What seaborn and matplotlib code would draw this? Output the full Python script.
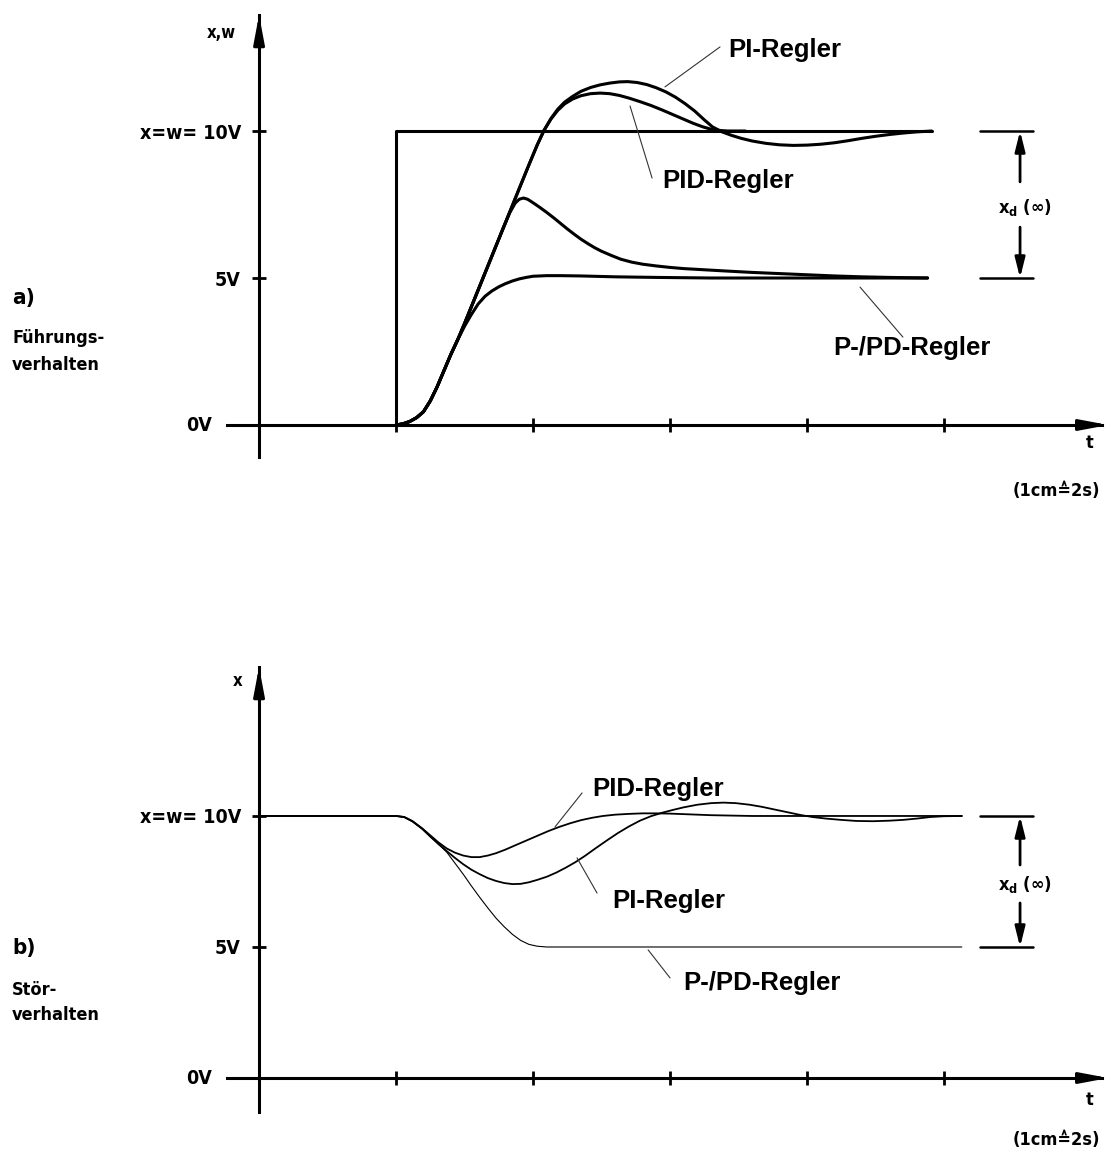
import pandas as pd
import seaborn as sns
import matplotlib.pyplot as plt
from matplotlib import font_manager as fm

sns.set_style('white')
plt.rcParams['text.color'] = 'black'
plt.rcParams['xtick.color'] = 'black'
plt.rcParams['ytick.color'] = 'black'

# ---- a) Fuehrungsverhalten: step of w at t=1 (t in cm, 1cm = 2s) ----
w_t = [1.0, 1.0, 4.91]
w_v = [0.0, 10.0, 10.0]

rise_t = [1.0, 1.05, 1.1, 1.15, 1.2, 1.25, 1.3, 1.35]
rise_v = [0.0, 0.04, 0.12, 0.25, 0.45, 0.82, 1.3, 1.85]

pi_a_t = rise_t + [1.4, 1.45, 1.5, 1.6, 1.7, 1.8, 1.9, 1.97, 2.03, 2.08, 2.13,
                   2.18, 2.23, 2.29, 2.35, 2.42, 2.49, 2.56, 2.63, 2.69, 2.76,
                   2.83, 2.9, 2.97, 3.04, 3.11, 3.18, 3.25, 3.31, 3.38, 3.45,
                   3.52, 3.6, 3.7, 3.8, 3.9, 4.0, 4.1, 4.2, 4.3, 4.4, 4.5,
                   4.6, 4.7, 4.8, 4.91]
pi_a_v = rise_v + [2.4, 2.9, 3.45, 4.6, 5.75, 6.9, 8.05, 8.85, 9.52, 10.02,
                   10.42, 10.74, 10.98, 11.18, 11.35, 11.48, 11.57, 11.63,
                   11.67, 11.68, 11.65, 11.58, 11.47, 11.33, 11.15, 10.93,
                   10.68, 10.38, 10.14, 9.97, 9.85, 9.75, 9.66, 9.58, 9.53,
                   9.51, 9.52, 9.55, 9.6, 9.67, 9.75, 9.82, 9.88, 9.93, 9.97,
                   10.0]

pid_a_t = rise_t + [1.4, 1.45, 1.5, 1.6, 1.7, 1.8, 1.9, 1.97, 2.03, 2.08,
                    2.13, 2.18, 2.23, 2.29, 2.35, 2.42, 2.49, 2.56, 2.63, 2.7,
                    2.78, 2.86, 2.94, 3.02, 3.1, 3.17, 3.24, 3.3, 3.36, 3.42,
                    3.55]
pid_a_v = rise_v + [2.4, 2.9, 3.45, 4.6, 5.75, 6.9, 8.05, 8.85, 9.52, 10.02,
                    10.4, 10.7, 10.92, 11.09, 11.2, 11.27, 11.29, 11.27, 11.21,
                    11.12, 11.0, 10.87, 10.72, 10.56, 10.4, 10.26, 10.14,
                    10.06, 10.02, 10.0, 10.0]

pd_a_t = rise_t + [1.4, 1.45, 1.5, 1.6, 1.7, 1.78, 1.83, 1.87, 1.9, 1.93,
                   1.96, 2.0, 2.05, 2.1, 2.15, 2.2, 2.25, 2.3, 2.35, 2.4, 2.45,
                   2.5, 2.57, 2.64, 2.72, 2.8, 2.9, 3.0, 3.1, 3.25, 3.4, 3.6,
                   3.8, 4.0, 4.2, 4.4, 4.6, 4.88]
pd_a_v = rise_v + [2.4, 2.9, 3.45, 4.6, 5.75, 6.67, 7.22, 7.55, 7.68, 7.72,
                   7.68, 7.56, 7.4, 7.23, 7.05, 6.86, 6.67, 6.49, 6.32, 6.17,
                   6.03, 5.91, 5.77, 5.64, 5.54, 5.47, 5.41, 5.36, 5.32, 5.28,
                   5.24, 5.19, 5.15, 5.11, 5.07, 5.04, 5.02, 5.0]

p_a_t = rise_t + [1.4, 1.45, 1.5, 1.55, 1.6, 1.65, 1.7, 1.75, 1.8, 1.85,
                  1.9, 1.95, 2.0, 2.1, 2.2, 2.35, 2.6, 2.9, 3.3, 4.88]
p_a_v = rise_v + [2.4, 2.9, 3.36, 3.76, 4.12, 4.38, 4.56, 4.7, 4.81, 4.9,
                  4.97, 5.02, 5.06, 5.08, 5.08, 5.07, 5.04, 5.02, 5.0, 5.0]

# ---- b) Stoerverhalten: disturbance at t=1 ----
pi_b_t = [0.0, 1.0, 1.06, 1.12, 1.19, 1.25, 1.31, 1.37, 1.43, 1.49, 1.55,
          1.61, 1.67, 1.73, 1.79, 1.85, 1.91, 1.97, 2.03, 2.1, 2.17, 2.24,
          2.31, 2.38, 2.46, 2.54, 2.62, 2.7, 2.78, 2.86, 2.94, 3.02, 3.1,
          3.2, 3.3, 3.39, 3.48, 3.58, 3.67, 3.76, 3.86, 3.95, 4.04, 4.14,
          4.25, 4.36, 4.48, 4.6, 4.7, 4.8, 4.9, 5.0, 5.13]
pi_b_v = [10.0, 10.0, 9.96, 9.8, 9.52, 9.22, 8.93, 8.66, 8.4, 8.16, 7.95,
          7.78, 7.63, 7.52, 7.44, 7.4, 7.41, 7.47, 7.56, 7.68, 7.84, 8.03,
          8.24, 8.48, 8.78, 9.07, 9.35, 9.6, 9.82, 9.99, 10.12, 10.23,
          10.33, 10.43, 10.49, 10.51, 10.49, 10.43, 10.35, 10.25, 10.14,
          10.04, 9.96, 9.9, 9.85, 9.81, 9.8, 9.82, 9.85, 9.9, 9.96, 9.99,
          10.0]

pid_b_t = [0.0, 1.0, 1.06, 1.12, 1.19, 1.25, 1.31, 1.37, 1.43, 1.49, 1.55,
           1.61, 1.67, 1.73, 1.8, 1.87, 1.95, 2.03, 2.11, 2.19, 2.27, 2.35,
           2.43, 2.51, 2.6, 2.7, 2.8, 2.9, 3.0, 3.1, 3.2, 3.3, 3.4, 3.5,
           3.6, 5.13]
pid_b_v = [10.0, 10.0, 9.96, 9.8, 9.53, 9.26, 8.99, 8.76, 8.6, 8.49, 8.43,
           8.43, 8.49, 8.58, 8.72, 8.88, 9.06, 9.24, 9.42, 9.58, 9.72, 9.84,
           9.93, 10.0, 10.05, 10.08, 10.1, 10.1, 10.09, 10.07, 10.05, 10.03,
           10.02, 10.01, 10.0, 10.0]

p_b_t = [0.0, 1.0, 1.06, 1.12, 1.19, 1.25, 1.31, 1.37, 1.43, 1.49, 1.55,
         1.61, 1.67, 1.73, 1.79, 1.85, 1.91, 1.97, 2.03, 2.1, 5.13]
p_b_v = [10.0, 10.0, 9.95, 9.78, 9.5, 9.2, 8.92, 8.62, 8.2, 7.78, 7.33,
         6.9, 6.49, 6.1, 5.77, 5.48, 5.25, 5.1, 5.03, 5.0, 5.0]

x_ticks = [1, 2, 3, 4, 5]
y_ticks = [5, 10]
y_labels = ['5V', 'x=w= 10V']

# technical (DIN-like) lettering for the axis texts
tech = fm.FontProperties(family='DejaVu Sans', weight='bold', stretch='condensed')
condensed = 'Condensed' in fm.findfont(tech)
tsize = 14 if condensed else 12.5


def tfont(size):
    fp = tech.copy()
    fp.set_size(size * tsize / 14)
    return fp


reg = dict(family=['Liberation Sans', 'DejaVu Sans'], weight='bold',
           fontsize=18.5, color='black')

fig = plt.figure(figsize=(11.08, 11.54), dpi=100)
ax1 = fig.add_axes([0, 0.5, 1, 0.5])
ax2 = fig.add_axes([0, 0, 1, 0.5])
ax1.set_xlim(-1.891, 6.197)
ax1.set_ylim(-5.17, 14.456)
ax2.set_xlim(-1.891, 6.197)
ax2.set_ylim(-2.90, 19.12)


def draw_axes(ax, y_top, y_bot, letter, title1, title2, ylab, ylab_v):
    for s in ['top', 'right']:
        ax.spines[s].set_visible(False)
    for s in ['left', 'bottom']:
        ax.spines[s].set_position(('data', 0))
        ax.spines[s].set_linewidth(2.2)
        ax.spines[s].set_color('black')
    ax.spines['left'].set_bounds(y_bot, y_top)
    ax.spines['bottom'].set_bounds(-0.234, 6.15)
    ax.set_xticks(x_ticks)
    ax.set_xticklabels([])
    ax.set_yticks(y_ticks)
    ax.set_yticklabels(y_labels)
    for lab in ax.get_yticklabels():
        lab.set_fontproperties(tfont(14))
        lab.set_color('black')
    ax.tick_params(axis='both', direction='inout', length=10, width=2,
                   color='black', bottom=True, left=True)
    ax.tick_params(axis='y', pad=8)
    ax.set_facecolor('white')
    arrow = dict(arrowstyle='-|>,head_length=1.7,head_width=0.32',
                 color='black', lw=2.2, shrinkA=0, shrinkB=0)
    ax.annotate('', xy=(0, y_top), xytext=(0, y_top - 1.0), arrowprops=arrow)
    ax.annotate('', xy=(6.2, 0), xytext=(6.0, 0), arrowprops=arrow)
    ax.text(-0.343, 0, '0V', ha='right', va='center', fontproperties=tfont(14))
    ax.text(-1.803, letter[1], letter[0], ha='left', va='center',
            fontproperties=tfont(16))
    ax.text(-1.803, title1[1], title1[0], ha='left', va='center',
            fontproperties=tfont(13))
    ax.text(-1.803, title2[1], title2[0], ha='left', va='center',
            fontproperties=tfont(13))
    ax.text(ylab[0], ylab[1], ylab_v, ha='center', va='center',
            fontproperties=tfont(12))


def draw_xd(ax, v_gap_top, v_gap_bot, v_text):
    ref = dict(color='black', lw=1.8, linestyle='-')
    sns.lineplot(x=[5.263, 5.65], y=[10, 10], ax=ax, **ref)
    sns.lineplot(x=[5.263, 5.65], y=[5, 5], ax=ax, **ref)
    arr = dict(arrowstyle='-|>,head_length=1.2,head_width=0.3',
               color='black', lw=2, shrinkA=0, shrinkB=0)
    ax.annotate('', xy=(5.555, 10), xytext=(5.555, v_gap_top), arrowprops=arr)
    ax.annotate('', xy=(5.555, 5), xytext=(5.555, v_gap_bot), arrowprops=arr)
    ax.text(5.59, v_text, r'$\mathregular{x_d}$ (∞)', ha='center', va='center',
            fontproperties=tfont(13))


def curve(ax, t, v, lw):
    sns.lineplot(x=t, y=v, ax=ax, color='black', lw=lw, sort=False,
                 estimator=None)


def leader(ax, p0, p1):
    sns.lineplot(x=[p0[0], p1[0]], y=[p0[1], p1[1]], ax=ax, color='#333333',
                 lw=0.8, sort=False, estimator=None)


# ---------- panel a ----------
draw_axes(ax1, 13.95, -1.1, ('a)', 4.32), ('Führungs-', 2.96),
          ('verhalten', 2.04), (-0.277, 13.33), 'x,w')
curve(ax1, w_t, w_v, 2.2)
curve(ax1, p_a_t, p_a_v, 2.2)
curve(ax1, pd_a_t, pd_a_v, 2.2)
curve(ax1, pid_a_t, pid_a_v, 2.2)
curve(ax1, pi_a_t, pi_a_v, 2.2)
draw_xd(ax1, 8.27, 6.73, 7.41)
ax1.text(3.423, 12.52, 'PI-Regler', ha='left', va='baseline', **reg)
leader(ax1, (3.365, 12.86), (2.963, 11.50))
ax1.text(2.942, 8.06, 'PID-Regler', ha='left', va='baseline', **reg)
leader(ax1, (2.869, 8.40), (2.708, 10.85))
ax1.text(4.19, 2.38, 'P-/PD-Regler', ha='left', va='baseline', **reg)
leader(ax1, (4.70, 2.99), (4.387, 4.69))
ax1.text(6.066, -0.61, 't', ha='center', va='center', fontproperties=tfont(13))
ax1.text(6.139, -2.24, '(1cm≙2s)', ha='right', va='center',
         fontproperties=tfont(13))

# ---------- panel b ----------
draw_axes(ax2, 15.69, -1.3, ('b)', 4.96), ('Stör-', 3.36),
          ('verhalten', 2.40), (-0.16, 15.15), 'x')
curve(ax2, p_b_t, p_b_v, 0.8)
curve(ax2, pid_b_t, pid_b_v, 1.3)
curve(ax2, pi_b_t, pi_b_v, 1.3)
draw_xd(ax2, 8.13, 6.68, 7.37)
ax2.text(2.43, 10.76, 'PID-Regler', ha='left', va='baseline', **reg)
leader(ax2, (2.358, 10.88), (2.16, 9.58))
ax2.text(2.577, 6.49, 'PI-Regler', ha='left', va='baseline', **reg)
leader(ax2, (2.467, 7.06), (2.321, 8.40))
ax2.text(3.095, 3.36, 'P-/PD-Regler', ha='left', va='baseline', **reg)
leader(ax2, (3.0, 3.82), (2.84, 4.89))
ax2.text(6.066, -0.84, 't', ha='center', va='center', fontproperties=tfont(13))
ax2.text(6.139, -2.37, '(1cm≙2s)', ha='right', va='center',
         fontproperties=tfont(13))

for ax in (ax1, ax2):
    ax.set_xlabel('')
    ax.set_ylabel('')
    if ax.get_legend() is not None:
        ax.get_legend().remove()

fig.savefig('out.png', dpi=100, facecolor='white')
